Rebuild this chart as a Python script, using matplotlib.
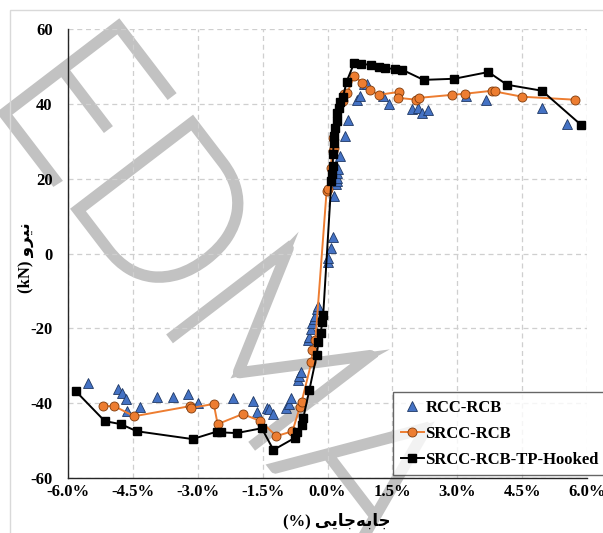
import matplotlib.pyplot as plt
import matplotlib.patheffects as pe
from matplotlib.patches import Rectangle

plt.rcParams['font.family'] = ['Liberation Serif', 'DejaVu Sans']
plt.rcParams['font.weight'] = 'bold'

# drift (%) and force (kN) for the three specimens
rcc_x = [-5.54, -4.85, -4.75, -4.66, -4.64, -4.34, -3.95, -3.58, -3.23, -3.00,
         -2.19, -1.73, -1.64, -1.41, -1.36, -1.27, -0.97, -0.90, -0.85, -0.69,
         -0.65, -0.62, -0.44, -0.42, -0.37, -0.35, -0.32, -0.30, -0.25, -0.23,
         0.02, 0.02, 0.09, 0.12, 0.16, 0.20, 0.21, 0.22, 0.23, 0.24,
         0.28, 0.41, 0.48, 0.69, 0.74, 0.85, 0.92, 1.29, 1.43, 1.96,
         2.10, 2.19, 2.33, 3.21, 3.67, 4.96, 5.54]
rcc_y = [-34.7, -36.3, -37.3, -38.9, -42.1, -41.1, -38.4, -38.4, -37.5, -40.0,
         -38.5, -39.5, -42.4, -41.3, -41.6, -42.9, -41.3, -40.2, -38.7, -33.9,
         -32.8, -31.7, -23.2, -22.4, -20.3, -18.7, -17.6, -16.8, -14.9, -13.9,
         -2.4, -1.3, 1.6, 4.3, 15.3, 18.7, 19.5, 20.3, 21.5, 22.7,
         26.0, 31.5, 35.6, 41.1, 42.0, 45.4, 45.4, 42.1, 40.0, 38.7,
         39.0, 37.6, 38.4, 42.1, 41.1, 38.9, 34.7]

srcc_x = [-5.19, -4.93, -4.47, -3.18, -3.16, -2.63, -2.54, -1.96, -1.55, -1.18,
          -0.81, -0.64, -0.60, -0.37, -0.35, -0.28, -0.02, 0.01, 0.07, 0.12,
          0.14, 0.13, 0.35, 0.39, 0.46, 0.62, 0.80, 0.99, 1.18, 1.66,
          1.64, 2.05, 2.12, 2.88, 3.18, 3.81, 3.87, 4.50, 5.72]
srcc_y = [-40.8, -40.8, -43.5, -40.8, -41.3, -40.2, -45.6, -42.9, -44.8, -48.8,
          -47.5, -41.1, -39.7, -29.0, -25.9, -23.2, 16.8, 17.3, 22.9, 27.5,
          28.3, 31.0, 40.8, 42.7, 43.0, 47.5, 45.6, 43.7, 42.4, 43.2,
          41.6, 41.1, 41.6, 42.4, 42.7, 43.5, 43.3, 41.9, 41.1]

tp_x = [-5.82, -5.15, -4.78, -4.41, -3.12, -2.56, -2.47, -2.10, -1.52, -1.25,
        -0.76, -0.70, -0.60, -0.56, -0.42, -0.25, -0.21, -0.16, -0.12, -0.10,
        0.09, 0.11, 0.12, 0.13, 0.14, 0.16, 0.18, 0.21, 0.23, 0.27,
        0.30, 0.36, 0.44, 0.62, 0.78, 1.00, 1.20, 1.32, 1.55, 1.73,
        2.22, 2.93, 3.72, 4.15, 4.96, 5.86]
tp_y = [-36.8, -44.8, -45.6, -47.5, -49.6, -47.6, -47.8, -48.0, -46.7, -52.5,
        -49.3, -47.7, -45.9, -44.0, -36.5, -27.2, -23.7, -21.3, -18.4, -16.5,
        19.5, 21.3, 23.5, 26.5, 29.5, 31.5, 33.5, 35.5, 37.5, 38.9,
        40.5, 41.8, 45.9, 51.0, 50.7, 50.4, 49.9, 49.6, 49.3, 49.1,
        46.4, 46.7, 48.5, 45.1, 43.5, 34.4]

x_ticks = [-6.0, -4.5, -3.0, -1.5, 0.0, 1.5, 3.0, 4.5, 6.0]
y_ticks = [-60, -40, -20, 0, 20, 40, 60]
series_names = ['RCC-RCB', 'SRCC-RCB', 'SRCC-RCB-TP-Hooked']

W, H = 603, 533
fig = plt.figure(figsize=(W / 100, H / 100), dpi=100)
ax = fig.add_axes([68 / W, 1 - 478 / H, (587 - 68) / W, (478 - 29) / H])

# thin chart-area border
fig.patches.append(Rectangle((10 / W, -0.2), 1.2, 1.2 - 10 / H,
                             transform=fig.transFigure, fill=False,
                             edgecolor='#d9d9d9', lw=1.0))

ax.plot(rcc_x, rcc_y, linestyle='none', marker='^', ms=6.5,
        mfc='#4472C4', mec='#1f3864', mew=0.6, label=series_names[0], zorder=3)
ax.plot(srcc_x, srcc_y, color='#ED7D31', lw=1.4, marker='o', ms=6.5,
        mfc='#ED7D31', mec='#7f3b0c', mew=0.6, label=series_names[1], zorder=4)
ax.plot(tp_x, tp_y, color='black', lw=1.4, marker='s', ms=6,
        mfc='black', mec='black', label=series_names[2], zorder=5)

ax.set_xlim(-6, 6)
ax.set_ylim(-60, 60)
ax.set_xticks(x_ticks)
ax.set_xticklabels([f'{v:.1f}%' for v in x_ticks])
ax.set_yticks(y_ticks)
ax.set_yticklabels([str(v) for v in y_ticks])
ax.tick_params(length=0, labelsize=12)
ax.tick_params(axis='x', pad=4)
ax.tick_params(axis='y', pad=11)

ax.grid(True, color='#cfcfcf', lw=0.9, linestyle=(0, (4, 3)))
ax.set_axisbelow('line')
for s in ['top', 'right']:
    ax.spines[s].set_visible(False)
for s in ['left', 'bottom']:
    ax.spines[s].set_color('#262626')
    ax.spines[s].set_linewidth(1.0)

# Persian axis titles, written in visual order with joined letter forms
y_title = '(kN) ' + '\uFEED\uFEAE\uFBFF\uFEE7'
x_title = '(%) ' + '\uFBFD\uFBFE\uFE8E\uFE9F\uFEEA\uFE91\uFE8E\uFE9F'
fig.text(26 / W, 1 - 258 / H, y_title, rotation=90, ha='center', va='center',
         fontsize=12, fontweight='bold')
fig.text(337 / W, 1 - 521 / H, x_title, ha='center', va='center',
         fontsize=12, fontweight='bold')

leg = ax.legend(loc='upper left', bbox_to_anchor=(393 / W, 1 - 392 / H),
                bbox_transform=fig.transFigure, frameon=True, fancybox=False,
                borderaxespad=0, borderpad=0.45, handlelength=1.4,
                handletextpad=0.1, labelspacing=0.6,
                prop={'size': 12, 'weight': 'bold'})
leg.get_frame().set_edgecolor('#404040')
leg.get_frame().set_linewidth(1.0)

# watermark lettering behind the data: thin glyphs widened by a stroke
ax.text(-12 / W, 1 - 94 / H, 'EDMA', transform=fig.transFigure,
        rotation=-52.6, rotation_mode='anchor', ha='left', va='baseline',
        fontsize=150, family='Lato', fontweight='light', color='#c2c2c2',
        zorder=1.0, clip_on=False,
        path_effects=[pe.Stroke(linewidth=6.5, foreground='#c2c2c2',
                                joinstyle='miter'), pe.Normal()])

fig.savefig('out.png', dpi=100)
